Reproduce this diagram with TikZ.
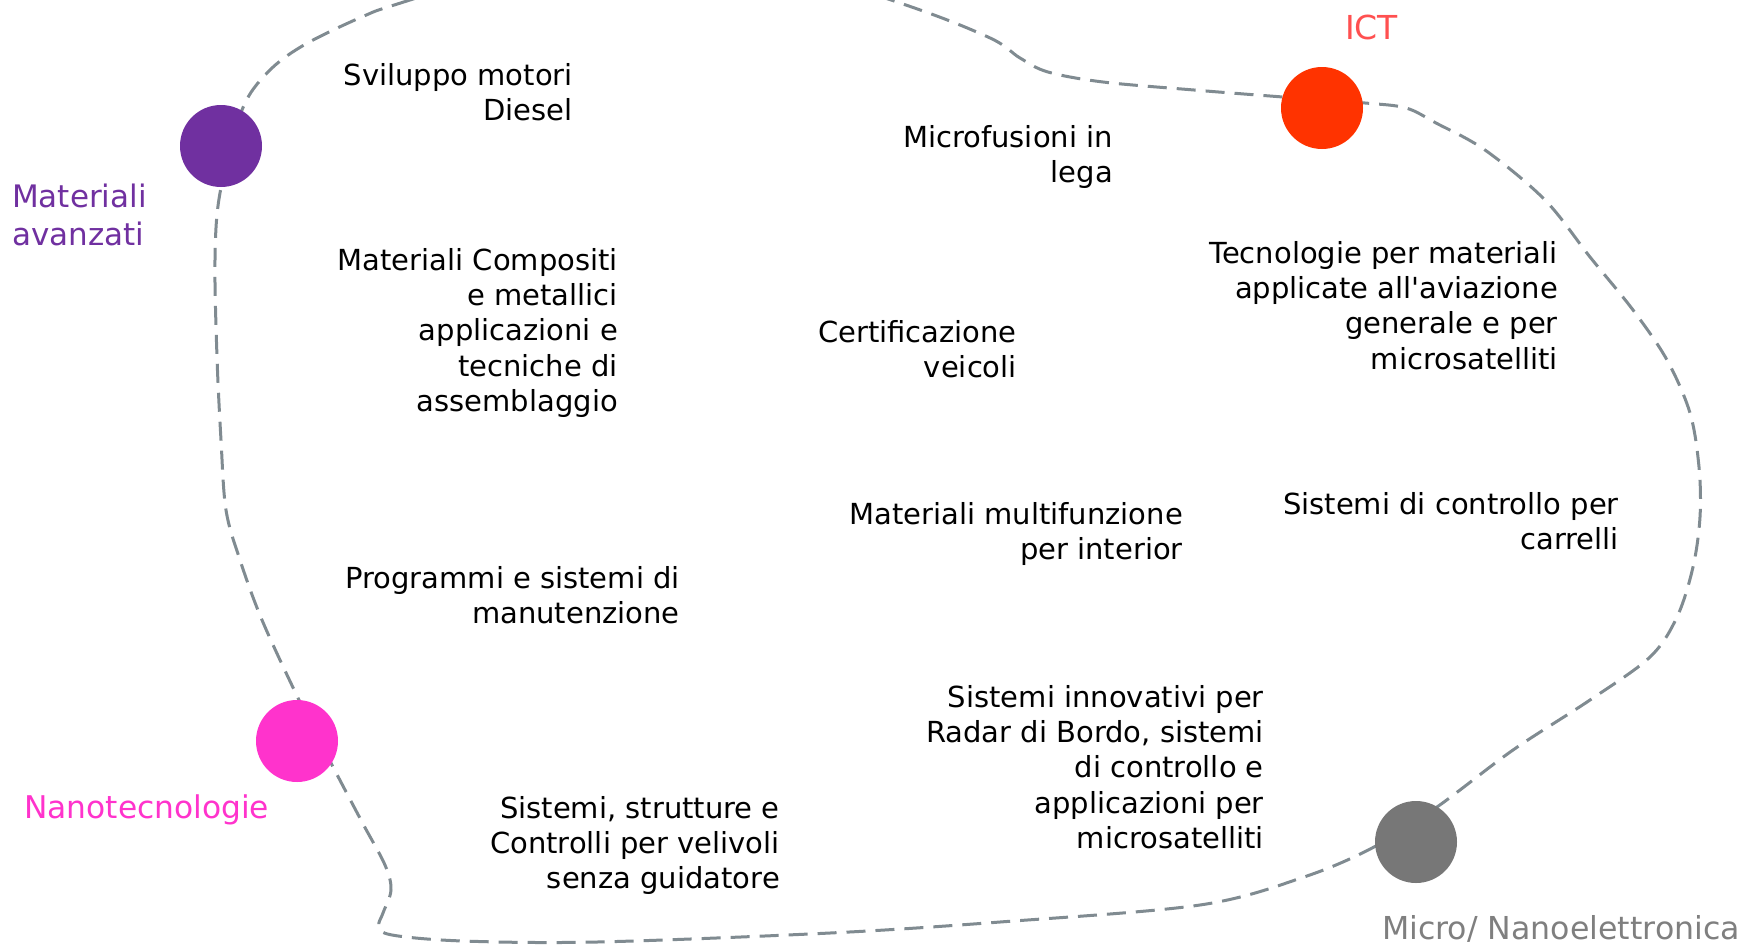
\documentclass[tikz,border=0pt]{standalone}
\usepackage{fontspec}
\setmainfont{DejaVu Sans}
\definecolor{purp}{RGB}{112,48,160}
\definecolor{redc}{RGB}{255,51,0}
\definecolor{ictc}{RGB}{255,80,80}
\definecolor{pinkc}{RGB}{255,51,204}
\definecolor{grayd}{RGB}{119,119,119}
\definecolor{grayl}{RGB}{127,127,127}
\definecolor{loopc}{RGB}{128,139,145}
\tikzset{
  body/.style={font=\fontsize{29}{35.4}\selectfont, align=right, anchor=base east, inner sep=0pt},
  lbl/.style={align=left, anchor=base west, inner sep=0pt},
  dot/.style={circle, minimum size=82pt, inner sep=0pt, draw=none},
  loopline/.style={draw=loopc, line width=3pt, dash pattern=on 19pt off 10pt}
}
\begin{document}
\begin{tikzpicture}[x=1pt,y=-1pt]
\useasboundingbox (0,0) rectangle (1746,946);
\begin{scope}
\clip (0,0) rectangle (1746,946);
\draw[loopline] plot[smooth cycle, tension=0.55] coordinates {
(650,-75) (410,0) (364,16) (304,45) (268,72) (242,110) (220,193) (215,260)
(217,357) (221,440) (226,510) (240,560) (262,620) (299,700) (331,763)
(362,822) (385,865) (391,890) (383,913) (379,926) (392,935) (463,941)
(597,942) (830,933) (1000,922) (1200,905) (1304,877) (1374,847) (1437,807)
(1513,750) (1590,700) (1650,657) (1677,617) (1693,567) (1700,517) (1699,467)
(1690,413) (1667,360) (1633,310) (1590,257) (1545,200) (1485,150) (1436,123)
(1406,108) (1365,103) (1283,97) (1194,90) (1103,82) (1048,72) (1020,58)
(988,37) (891,0)};
\end{scope}
\node[dot, fill=purp] (c1) at (221,146) {};
\node[dot, fill=redc] (c2) at (1322,108) {};
\node[dot, fill=pinkc] (c3) at (297,741) {};
\node[dot, fill=grayd] (c4) at (1416,842) {};
% anchors are at the baseline of each text's last line
\node[body] (t1) at (573,120.4) {Sviluppo motori\\Diesel};
\node[body] (t2) at (1113,182.4) {Microfusioni in\\lega};
\node[body] (t3) at (618,411.6) {Materiali Compositi\\e metallici\\applicazioni e\\tecniche di\\assemblaggio};
\node[body] (t4) at (1017,377.4) {Certificazione\\veicoli};
\node[body] (t5) at (1558,369.2) {Tecnologie per materiali\\applicate all\textquotesingle aviazione\\generale e per\\microsatelliti};
\node[body] (t6) at (1619,549.4) {Sistemi di controllo per\\carrelli};
\node[body] (t7) at (1183,559.4) {Materiali multifunzione\\per interior};
\node[body] (t8) at (680,623.4) {Programmi e sistemi di\\manutenzione};
\node[body] (t9) at (1264,848.6) {Sistemi innovativi per\\Radar di Bordo, sistemi\\di controllo e\\applicazioni per\\microsatelliti};
\node[body] (t10) at (780,888.8) {Sistemi, strutture e\\Controlli per velivoli\\senza guidatore};
\node[lbl, text=purp, font=\fontsize{31}{38}\selectfont] (l1) at (12,245) {Materiali\\avanzati};
\node[lbl, text=ictc, font=\fontsize{33}{40}\selectfont] (l2) at (1345,39) {ICT};
\node[lbl, text=pinkc, font=\fontsize{31.3}{38}\selectfont] (l3) at (24,818) {Nanotecnologie};
\node[lbl, text=grayl, font=\fontsize{31.6}{38}\selectfont] (l4) at (1382,939) {Micro/ Nanoelettronica};
\end{tikzpicture}
\end{document}
